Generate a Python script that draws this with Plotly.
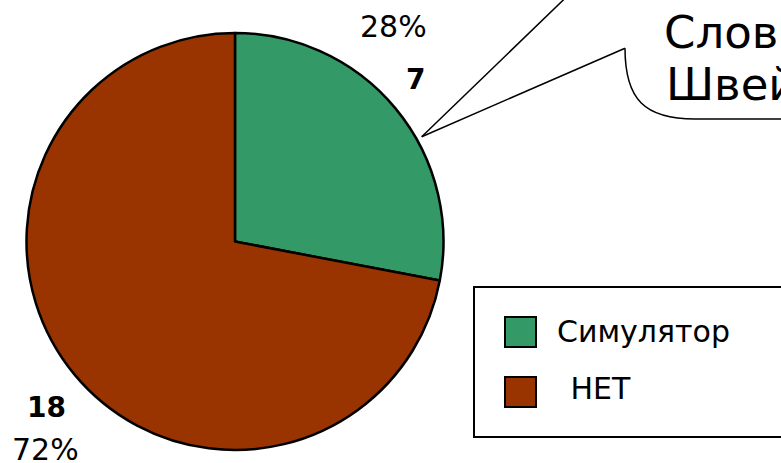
import plotly.graph_objects as go

# ---- data ----
labels = ["Симулятор", " НЕТ"]
values = [7, 18]
percents = ["28%", "72%"]
colors = ["#339966", "#993300"]
callout_lines = ["Слов", "Швей"]

W, H = 781, 463

def px(x):
    return x / W

def py(y):
    return 1 - y / H

cx, cy, r = 235, 241.5, 208.5

fig = go.Figure(go.Pie(
    labels=labels, values=values, sort=False, direction="clockwise", rotation=0,
    marker=dict(colors=colors, line=dict(color="black", width=2.5)),
    textinfo="none", hoverinfo="label+value+percent", showlegend=False,
    domain=dict(x=[px(cx - r), px(cx + r)], y=[py(cy + r), py(cy - r)]),
))

ann = []
reg = dict(family="DejaVu Sans", size=30, color="black")
bold = dict(family="DejaVu Sans", size=28, color="black")
# slice labels
ann.append(dict(x=px(393), y=py(26), text=percents[0], font=reg))
ann.append(dict(x=px(415.5), y=py(79), text="<b>%d</b>" % values[0], font=bold))
ann.append(dict(x=px(46.5), y=py(407), text="<b>%d</b>" % values[1], font=bold))
ann.append(dict(x=px(45), y=py(449), text=percents[1], font=reg))
# callout text
big = dict(family="DejaVu Sans", size=45, color="black")
ann.append(dict(x=px(662), y=py(32.5), text=callout_lines[0], font=big, xanchor="left"))
ann.append(dict(x=px(664), y=py(85), text=callout_lines[1], font=big, xanchor="left"))
# legend text
ann.append(dict(x=px(555), y=py(331), text=labels[0], font=reg, xanchor="left"))
ann.append(dict(x=px(559), y=py(388), text=labels[1], font=reg, xanchor="left"))

for a in ann:
    a.setdefault("xanchor", "center")
    a.update(xref="paper", yref="paper", yanchor="middle", showarrow=False)

shapes = []
# callout pointer and bubble outline
shapes.append(dict(type="line", x0=px(421.7), y0=py(136.7), x1=px(584), y1=py(-20),
                   line=dict(color="black", width=1.5)))
shapes.append(dict(type="line", x0=px(421.7), y0=py(136.7), x1=px(625), y1=py(48.3),
                   line=dict(color="black", width=1.5)))
path = "M %f,%f C %f,%f %f,%f %f,%f L %f,%f" % (
    px(625), py(48.3), px(625), py(100), px(645), py(119), px(695), py(119), px(800), py(119))
shapes.append(dict(type="path", path=path, line=dict(color="black", width=1.5)))
# legend box
shapes.append(dict(type="rect", x0=px(474), y0=py(287), x1=px(800), y1=py(437),
                   line=dict(color="black", width=2)))
for i, c in enumerate(colors):
    y0 = 317 + i * 60
    shapes.append(dict(type="rect", x0=px(505), y0=py(y0), x1=px(536), y1=py(y0 + 30),
                       fillcolor=c, line=dict(color="black", width=2)))
for s in shapes:
    s.update(xref="paper", yref="paper")

fig.update_layout(
    width=W, height=H, margin=dict(l=0, r=0, t=0, b=0),
    paper_bgcolor="white", plot_bgcolor="white",
    annotations=ann, shapes=shapes,
)

fig.write_html("out.html", config={"displayModeBar": False},
               post_script="document.body.style.margin='0';")
